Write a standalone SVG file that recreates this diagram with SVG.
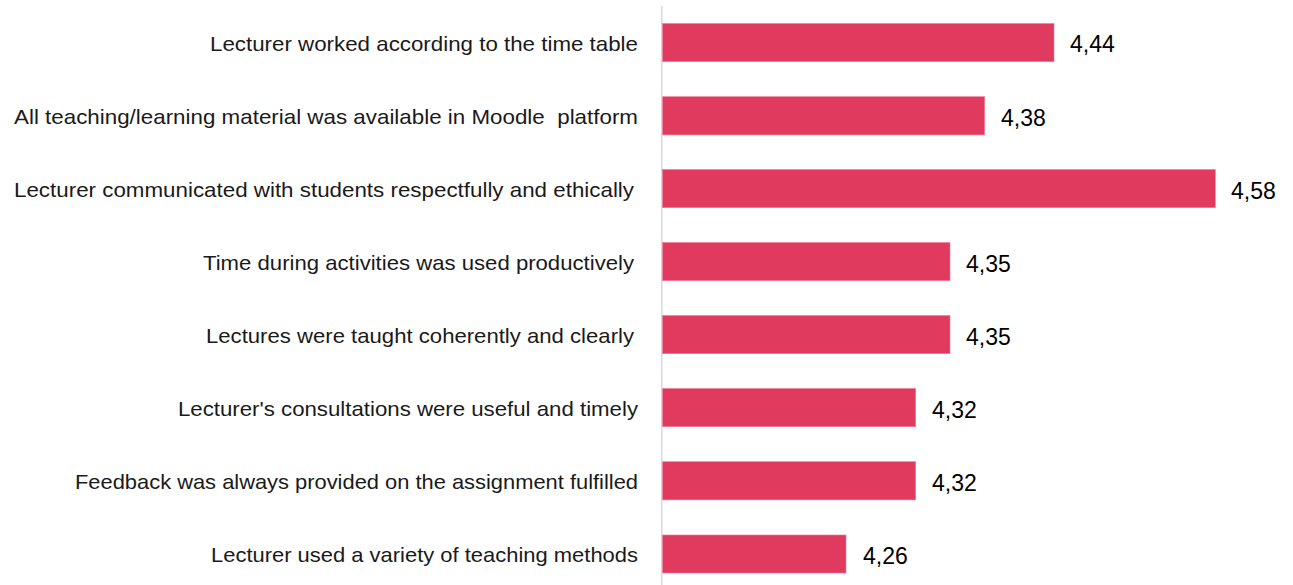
<svg xmlns="http://www.w3.org/2000/svg" width="1293" height="585" viewBox="0 0 1293 585">
<style>
.lbl{font-family:"Liberation Sans",Arial,sans-serif;font-size:21px;fill:#1a1a1a;white-space:pre}
.val{font-family:"Liberation Sans",Arial,sans-serif;font-size:23px;fill:#000}
.bar{fill:#e03a5f;stroke:#f07d96;stroke-width:0.6}
</style>
<rect width="1293" height="585" fill="#fff"/>
<g id="axis"><line x1="661.8" y1="6" x2="661.8" y2="585" stroke="#d9d9d9" stroke-width="1.5"/></g>
<g id="row1"><text class="lbl" x="210" y="50.5" textLength="428" lengthAdjust="spacingAndGlyphs">Lecturer worked according to the time table</text><rect class="bar" x="662.5" y="23.5" width="391.5" height="38.2"/><text class="val" x="1070" y="52.3">4,44</text></g>
<g id="row2"><text class="lbl" x="14" y="123.5" textLength="624" lengthAdjust="spacingAndGlyphs">All teaching/learning material was available in Moodle  platform</text><rect class="bar" x="662.5" y="96.7" width="322.2" height="38.2"/><text class="val" x="1001" y="125.5">4,38</text></g>
<g id="row3"><text class="lbl" x="14" y="196.5" textLength="620" lengthAdjust="spacingAndGlyphs">Lecturer communicated with students respectfully and ethically</text><rect class="bar" x="662.5" y="169.5" width="552.8" height="38.2"/><text class="val" x="1231" y="198.5">4,58</text></g>
<g id="row4"><text class="lbl" x="203" y="269.5" textLength="431" lengthAdjust="spacingAndGlyphs">Time during activities was used productively</text><rect class="bar" x="662.5" y="242.5" width="287.5" height="38.2"/><text class="val" x="966" y="271.5">4,35</text></g>
<g id="row5"><text class="lbl" x="206" y="342.5" textLength="428" lengthAdjust="spacingAndGlyphs">Lectures were taught coherently and clearly</text><rect class="bar" x="662.5" y="315.5" width="287.5" height="38.2"/><text class="val" x="966" y="344.5">4,35</text></g>
<g id="row6"><text class="lbl" x="178" y="415.5" textLength="460" lengthAdjust="spacingAndGlyphs">Lecturer's consultations were useful and timely</text><rect class="bar" x="662.5" y="388.5" width="253.2" height="38.2"/><text class="val" x="932" y="417.5">4,32</text></g>
<g id="row7"><text class="lbl" x="75" y="488.5" textLength="563" lengthAdjust="spacingAndGlyphs">Feedback was always provided on the assignment fulfilled</text><rect class="bar" x="662.5" y="461.7" width="253.2" height="38.2"/><text class="val" x="932" y="490.5">4,32</text></g>
<g id="row8"><text class="lbl" x="211" y="561.5" textLength="427" lengthAdjust="spacingAndGlyphs">Lecturer used a variety of teaching methods</text><rect class="bar" x="662.5" y="535" width="183.5" height="38" /><text class="val" x="863" y="563.5">4,26</text></g>
</svg>
